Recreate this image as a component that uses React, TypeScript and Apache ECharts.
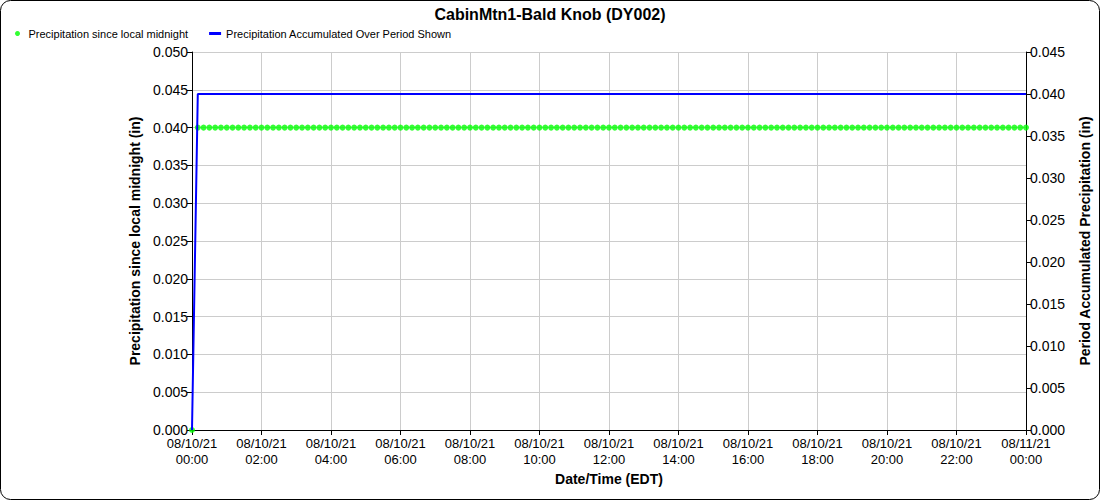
import React, { useEffect, useRef } from "react";
import * as echarts from "echarts";

// minutes since 08/10/21 00:00 (EDT), 10-minute reports
const reportMinutes: number[] = [
  0, 10, 20, 30, 40, 50, 60, 70, 80, 90, 100, 110, 120, 130, 140, 150, 160, 170, 180, 190,
  200, 210, 220, 230, 240, 250, 260, 270, 280, 290, 300, 310, 320, 330, 340, 350, 360, 370,
  380, 390, 400, 410, 420, 430, 440, 450, 460, 470, 480, 490, 500, 510, 520, 530, 540, 550,
  560, 570, 580, 590, 600, 610, 620, 630, 640, 650, 660, 670, 680, 690, 700, 710, 720, 730,
  740, 750, 760, 770, 780, 790, 800, 810, 820, 830, 840, 850, 860, 870, 880, 890, 900, 910,
  920, 930, 940, 950, 960, 970, 980, 990, 1000, 1010, 1020, 1030, 1040, 1050, 1060, 1070,
  1080, 1090, 1100, 1110, 1120, 1130, 1140, 1150, 1160, 1170, 1180, 1190, 1200, 1210, 1220,
  1230, 1240, 1250, 1260, 1270, 1280, 1290, 1300, 1310, 1320, 1330, 1340, 1350, 1360, 1370,
  1380, 1390, 1400, 1410, 1420, 1430, 1440,
];

// Precipitation since local midnight (in)
const precipSinceMidnight: number[] = [
  0.0, 0.04, 0.04, 0.04, 0.04, 0.04, 0.04, 0.04, 0.04, 0.04, 0.04, 0.04, 0.04, 0.04, 0.04, 0.04,
  0.04, 0.04, 0.04, 0.04, 0.04, 0.04, 0.04, 0.04, 0.04, 0.04, 0.04, 0.04, 0.04, 0.04, 0.04, 0.04,
  0.04, 0.04, 0.04, 0.04, 0.04, 0.04, 0.04, 0.04, 0.04, 0.04, 0.04, 0.04, 0.04, 0.04, 0.04, 0.04,
  0.04, 0.04, 0.04, 0.04, 0.04, 0.04, 0.04, 0.04, 0.04, 0.04, 0.04, 0.04, 0.04, 0.04, 0.04, 0.04,
  0.04, 0.04, 0.04, 0.04, 0.04, 0.04, 0.04, 0.04, 0.04, 0.04, 0.04, 0.04, 0.04, 0.04, 0.04, 0.04,
  0.04, 0.04, 0.04, 0.04, 0.04, 0.04, 0.04, 0.04, 0.04, 0.04, 0.04, 0.04, 0.04, 0.04, 0.04, 0.04,
  0.04, 0.04, 0.04, 0.04, 0.04, 0.04, 0.04, 0.04, 0.04, 0.04, 0.04, 0.04, 0.04, 0.04, 0.04, 0.04,
  0.04, 0.04, 0.04, 0.04, 0.04, 0.04, 0.04, 0.04, 0.04, 0.04, 0.04, 0.04, 0.04, 0.04, 0.04, 0.04,
  0.04, 0.04, 0.04, 0.04, 0.04, 0.04, 0.04, 0.04, 0.04, 0.04, 0.04, 0.04, 0.04, 0.04, 0.04, 0.04,
  0.04,
];

// Precipitation accumulated over period shown (in)
const accumMinutes: number[] = [0, 10, 1440];
const accumValues: number[] = [0.0, 0.04, 0.04];

// x tick labels every 2 hours
const xTickLabels: string[] = [
  "08/10/21\n00:00", "08/10/21\n02:00", "08/10/21\n04:00", "08/10/21\n06:00",
  "08/10/21\n08:00", "08/10/21\n10:00", "08/10/21\n12:00", "08/10/21\n14:00",
  "08/10/21\n16:00", "08/10/21\n18:00", "08/10/21\n20:00", "08/10/21\n22:00",
  "08/11/21\n00:00",
];

const title = "CabinMtn1-Bald Knob (DY002)";
const seriesNames = ["Precipitation since local midnight", "Precipitation Accumulated Over Period Shown"];

export default function App() {
  const ref = useRef<HTMLDivElement>(null);
  useEffect(() => {
    if (!ref.current) return;
    const chart = echarts.init(ref.current, null, { renderer: "svg" });
    const font = "'Liberation Sans', Arial, sans-serif";
    chart.setOption({
      animation: false,
      backgroundColor: "#fff",
      textStyle: { fontFamily: font, color: "#000" },
      title: {
        text: title,
        left: "center",
        top: 1,
        textStyle: { fontFamily: font, fontSize: 16, fontWeight: "bold", color: "#000" },
      },
      legend: {
        left: 10,
        top: 23,
        itemWidth: 12,
        itemHeight: 5,
        itemGap: 21,
        textStyle: { fontFamily: font, fontSize: 11, color: "#000" },
        data: [
          { name: seriesNames[0], icon: "circle" },
          { name: seriesNames[1], icon: "path://M0,0H12V3H0Z" },
        ],
      },
      graphic: [
        {
          type: "rect",
          shape: { x: 0.5, y: 0.5, width: 1099, height: 499, r: 10 },
          style: { fill: "none", stroke: "#000", lineWidth: 1 },
          silent: true,
        },
      ],
      grid: { left: 192, right: 72, top: 52, bottom: 70 },
      xAxis: {
        type: "value",
        min: 0,
        max: 1440,
        interval: 120,
        name: "Date/Time (EDT)",
        nameLocation: "middle",
        nameGap: 42,
        nameTextStyle: { fontFamily: font, fontSize: 14, fontWeight: "bold", color: "#000" },
        axisLine: { lineStyle: { color: "#000" } },
        axisTick: { show: true, length: 5, lineStyle: { color: "#000" } },
        axisLabel: {
          fontFamily: font,
          fontSize: 13,
          lineHeight: 16,
          color: "#000",
          margin: 5,
          formatter: (v: number) => xTickLabels[Math.round(v / 120)] ?? "",
        },
        splitLine: { show: true, lineStyle: { color: "#cccccc" } },
      },
      yAxis: [
        {
          type: "value",
          min: 0,
          max: 0.05,
          interval: 0.005,
          position: "left",
          name: "Precipitation since local midnight (in)",
          nameLocation: "middle",
          nameGap: 50,
          nameTextStyle: { fontFamily: font, fontSize: 14, fontWeight: "bold", color: "#000" },
          axisLine: { show: true, lineStyle: { color: "#000" } },
          axisTick: { show: true, length: 5, lineStyle: { color: "#000" } },
          axisLabel: {
            fontFamily: font,
            fontSize: 14,
            color: "#000",
            margin: 4,
            formatter: (v: number) => v.toFixed(3),
          },
          splitLine: { show: true, lineStyle: { color: "#cccccc" } },
        },
        {
          type: "value",
          min: 0,
          max: 0.045,
          interval: 0.005,
          position: "right",
          name: "Period Accumulated Precipitation (in)",
          nameLocation: "middle",
          nameGap: 52,
          nameTextStyle: { fontFamily: font, fontSize: 14, fontWeight: "bold", color: "#000" },
          axisLine: { show: true, lineStyle: { color: "#000" } },
          axisTick: { show: true, length: 5, lineStyle: { color: "#000" } },
          axisLabel: {
            fontFamily: font,
            fontSize: 14,
            color: "#000",
            margin: 4,
            formatter: (v: number) => v.toFixed(3),
          },
          splitLine: { show: false },
        },
      ],
      series: [
        {
          name: seriesNames[0],
          type: "scatter",
          yAxisIndex: 0,
          symbol: "circle",
          symbolSize: 6,
          itemStyle: { color: "#00ff00" },
          data: reportMinutes.map((m, i) => [m, precipSinceMidnight[i]]),
          z: 3,
        },
        {
          name: seriesNames[1],
          type: "line",
          yAxisIndex: 1,
          showSymbol: false,
          symbol: "none",
          lineStyle: { color: "#0000ff", width: 2 },
          itemStyle: { color: "#0000ff" },
          data: accumMinutes.map((m, i) => [m, accumValues[i]]),
          z: 4,
        },
      ],
    });
    return () => chart.dispose();
  }, []);
  return (
    <div style={{ position: "fixed", left: 0, top: 0, width: 1100, height: 500 }}>
      <div ref={ref} style={{ width: 1100, height: 500 }} />
    </div>
  );
}
